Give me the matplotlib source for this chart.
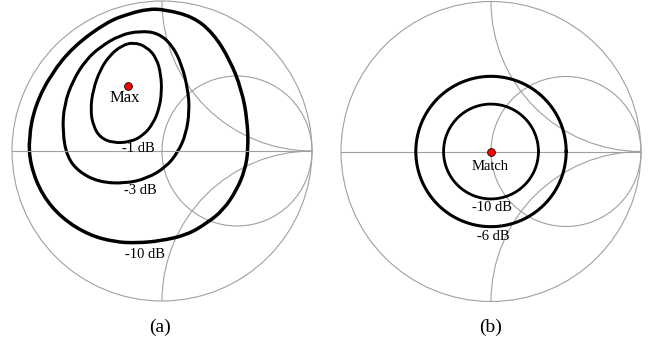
import numpy as np
import matplotlib; matplotlib.use("Agg"); import matplotlib.pyplot as plt
from matplotlib.patches import Circle, Arc, PathPatch
from matplotlib.path import Path

plt.rcParams["font.family"] = ["Liberation Serif", "DejaVu Serif"]

# (a) gain contours, reflection-coefficient coordinates (Re, Im)
LEVELS_A = ["-1 dB", "-3 dB", "-10 dB"]
C1_RE = [-0.191, -0.102, -0.035, -0.007, -0.002, -0.018, -0.058, -0.125, -0.213, -0.325, -0.413, -0.458, -0.477, -0.460, -0.413, -0.347, -0.267]
C1_IM = [0.725, 0.695, 0.618, 0.507, 0.395, 0.285, 0.185, 0.103, 0.060, 0.053, 0.090, 0.167, 0.273, 0.407, 0.540, 0.640, 0.703]
C3_RE = [-0.147, -0.027, 0.067, 0.133, 0.173, 0.183, 0.160, 0.107, 0.027, -0.100, -0.247, -0.420, -0.553, -0.633, -0.663, -0.653, -0.593, -0.507, -0.413, -0.280]
C3_IM = [0.800, 0.787, 0.707, 0.573, 0.407, 0.267, 0.113, -0.007, -0.107, -0.183, -0.217, -0.207, -0.140, -0.040, 0.127, 0.307, 0.473, 0.607, 0.693, 0.773]
C10_RE = [-0.093, 0.020, 0.207, 0.340, 0.453, 0.531, 0.569, 0.575, 0.553, 0.498, 0.409, 0.298, 0.165, -0.013, -0.167, -0.313, -0.489, -0.667, -0.800, -0.878, -0.889, -0.847, -0.740, -0.587, -0.367, -0.227]
C10_IM = [0.947, 0.943, 0.895, 0.787, 0.607, 0.407, 0.207, 0.007, -0.127, -0.260, -0.393, -0.482, -0.560, -0.600, -0.613, -0.607, -0.560, -0.449, -0.293, -0.093, 0.085, 0.300, 0.513, 0.700, 0.860, 0.913]
MAX_PT = (-0.225, 0.433)

# (b) return-loss circles around the match point
LEVELS_B = [-10, -6]   # dB
MATCH_PT = (0.0, 0.0)

GRID = "#a0a0a0"; W, H = 653, 346

def smith_axes(fig, cx, cy, R=150):
    half = 1.05*R
    ax = fig.add_axes([(cx-half)/W, (H-cy-half)/H, 2*half/W, 2*half/H])
    ax.set_xlim(-1.05, 1.05); ax.set_ylim(-1.05, 1.05); ax.set_aspect("equal"); ax.axis("off")
    kw = dict(fill=False, ec=GRID, lw=0.8)
    ax.add_patch(Circle((0, 0), 1, **kw))
    ax.add_patch(Circle((0.5, 0), 0.5, **kw))
    ax.add_patch(Arc((1, 1), 2, 2, theta1=180, theta2=270, ec=GRID, lw=0.8))
    ax.add_patch(Arc((1, -1), 2, 2, theta1=90, theta2=180, ec=GRID, lw=0.8))
    ax.plot([-1, 1], [0, 0], color=GRID, lw=0.8)
    return ax

def closed_curve(re, im):
    # quadratic B-spline path: the read points act as control points
    P = np.column_stack([re, im]); M = (P + np.roll(P, -1, axis=0))/2
    verts = [M[-1]]; codes = [Path.MOVETO]
    for p, m in zip(P, M):
        verts += [p, m]; codes += [Path.CURVE3, Path.CURVE3]
    return Path(verts, codes)

fig = plt.figure(figsize=(W/100, H/100), dpi=100)

# ---- (a) ----
ax = smith_axes(fig, 162, 151)
for re, im, lw in [(C1_RE, C1_IM, 2.1), (C3_RE, C3_IM, 2.2), (C10_RE, C10_IM, 2.5)]:
    ax.add_patch(PathPatch(closed_curve(re, im), fill=False, ec="black", lw=lw, clip_on=False))
ax.plot(*MAX_PT, "o", ms=5.6, mfc="red", mec="black", mew=0.6, zorder=5)
ax.text(-0.247, 0.351, "Max", ha="center", va="center", fontsize=12)
for lab, (x, y) in zip(LEVELS_A, [(-0.158, 0.015), (-0.147, -0.264), (-0.113, -0.693)]):
    ax.text(x, y, lab, ha="center", va="center", fontsize=10.5)
ax.text(-0.01, -1.173, "(a)", ha="center", va="center", fontsize=14)

# ---- (b) ----
ax = smith_axes(fig, 491, 151.5)
t = np.linspace(0, 2*np.pi, 361)
for db, lw in zip(LEVELS_B, [2.0, 2.2]):
    r = 10**(db/20)
    ax.plot(MATCH_PT[0] + r*np.cos(t), MATCH_PT[1] + r*np.sin(t), color="black", lw=lw)
ax.plot(*MATCH_PT, "o", ms=5.6, mfc="red", mec="black", mew=0.6, zorder=5)
ax.text(-0.007, -0.1, "Match", ha="center", va="center", fontsize=10.5)
ax.text(0.005, -0.375, "-10 dB", ha="center", va="center", fontsize=10.5)
ax.text(0.015, -0.565, "-6 dB", ha="center", va="center", fontsize=10.5)
ax.text(-0.005, -1.17, "(b)", ha="center", va="center", fontsize=14)

fig.savefig("out.png", dpi=100)
